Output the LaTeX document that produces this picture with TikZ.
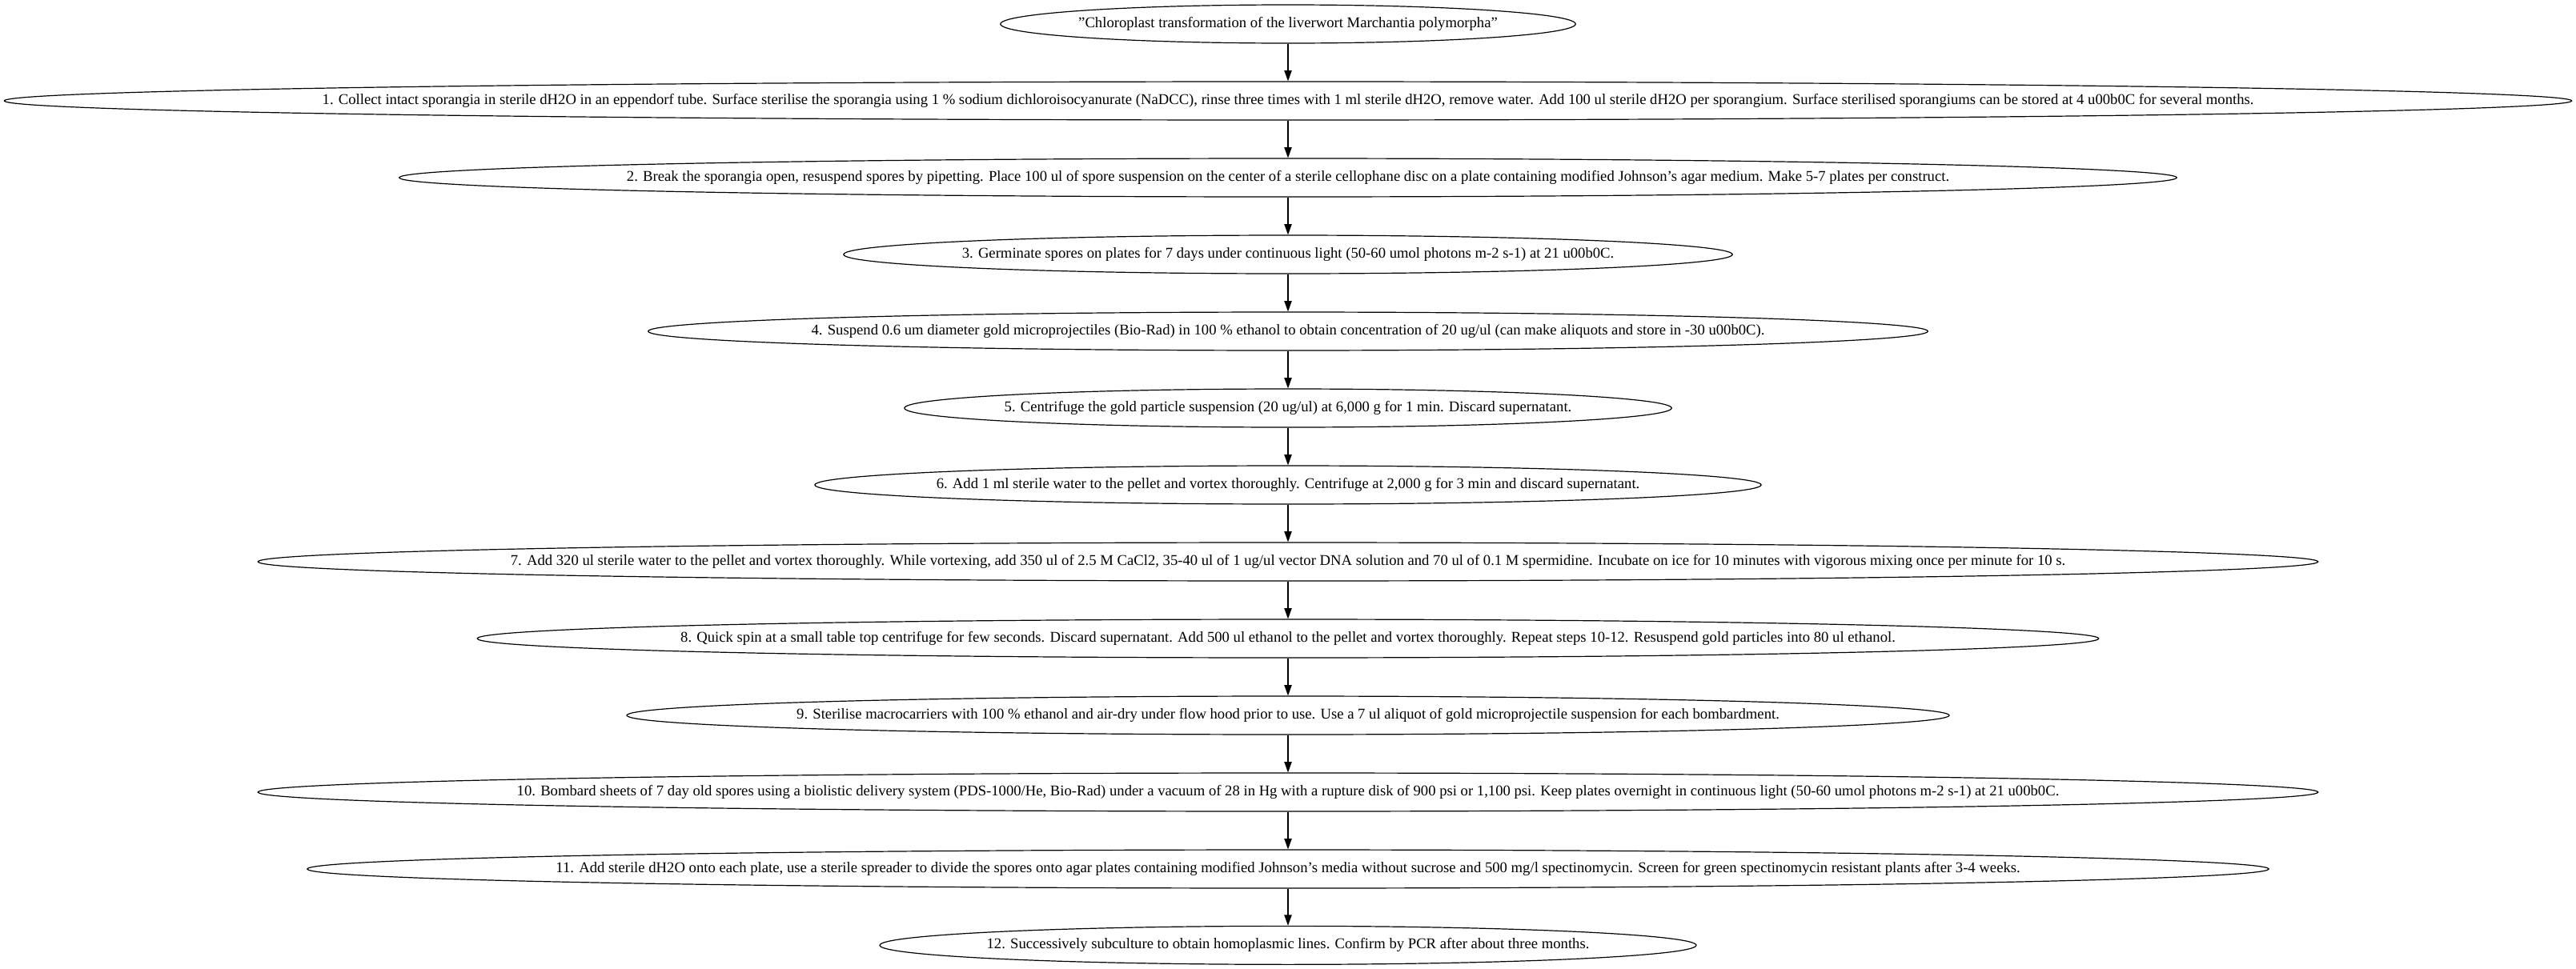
\documentclass[tikz,border=0pt]{standalone}
\usepackage{fontspec}
\setmainfont{Liberation Serif}
\usetikzlibrary{shapes.geometric,arrows.meta}
% each step is a fixed-size ellipse; the label is centred in a zero-width box
\newcommand{\steptext}[1]{\makebox[0pt]{#1}}
\tikzset{
  stepnode/.style={draw=black, line width=0.9pt, ellipse, inner sep=0pt,
    minimum height=36pt, font=\fontsize{14pt}{16pt}\selectfont},
  flow/.style={draw=black, line width=0.9pt, -{Triangle[length=10pt,width=7pt]}}
}
\begin{document}
\begin{tikzpicture}[x=1pt,y=1pt]
\useasboundingbox (0,0) rectangle (2413.5,-908);
\def\cx{1206.75}
\node[stepnode, minimum width=538.8pt] (t) at (\cx,-22.5) {\steptext{"Chloroplast transformation of the liverwort Marchantia polymorpha"}};
\node[stepnode, minimum width=2405.5pt] (s1) at (\cx,-94.5) {\steptext{1. Collect intact sporangia in sterile dH2O in an eppendorf tube. Surface sterilise the sporangia using 1 \% sodium dichloroisocyanurate (NaDCC), rinse three times with 1 ml sterile dH2O, remove water. Add 100 ul sterile dH2O per sporangium. Surface sterilised sporangiums can be stored at 4 u00b0C for several months.}};
\node[stepnode, minimum width=1665.4pt] (s2) at (\cx,-166.5) {\steptext{2. Break the sporangia open, resuspend spores by pipetting. Place 100 ul of spore suspension on the center of a sterile cellophane disc on a plate containing modified Johnson’s agar medium. Make 5-7 plates per construct.}};
\node[stepnode, minimum width=832.8pt] (s3) at (\cx,-238.5) {\steptext{3. Germinate spores on plates for 7 days under continuous light (50-60 umol photons m-2 s-1) at 21 u00b0C.}};
\node[stepnode, minimum width=1199pt] (s4) at (\cx,-310.5) {\steptext{4. Suspend 0.6 um diameter gold microprojectiles (Bio-Rad) in 100 \% ethanol to obtain concentration of 20 ug/ul (can make aliquots and store in -30 u00b0C).}};
\node[stepnode, minimum width=718.8pt] (s5) at (\cx,-382.5) {\steptext{5. Centrifuge the gold particle suspension (20 ug/ul) at 6,000 g for 1 min. Discard supernatant.}};
\node[stepnode, minimum width=886.6pt] (s6) at (\cx,-454.5) {\steptext{6. Add 1 ml sterile water to the pellet and vortex thoroughly. Centrifuge at 2,000 g for 3 min and discard supernatant.}};
\node[stepnode, minimum width=1930.2pt] (s7) at (\cx,-526.5) {\steptext{7. Add 320 ul sterile water to the pellet and vortex thoroughly. While vortexing, add 350 ul of 2.5 M CaCl2, 35-40 ul of 1 ug/ul vector DNA solution and 70 ul of 0.1 M spermidine. Incubate on ice for 10 minutes with vigorous mixing once per minute for 10 s.}};
\node[stepnode, minimum width=1519.2pt] (s8) at (\cx,-598.5) {\steptext{8. Quick spin at a small table top centrifuge for few seconds. Discard supernatant. Add 500 ul ethanol to the pellet and vortex thoroughly. Repeat steps 10-12. Resuspend gold particles into 80 ul ethanol.}};
\node[stepnode, minimum width=1239pt] (s9) at (\cx,-670.5) {\steptext{9. Sterilise macrocarriers with 100 \% ethanol and air-dry under flow hood prior to use. Use a 7 ul aliquot of gold microprojectile suspension for each bombardment.}};
\node[stepnode, minimum width=1930.2pt] (s10) at (\cx,-742.5) {\steptext{10. Bombard sheets of 7 day old spores using a biolistic delivery system (PDS-1000/He, Bio-Rad) under a vacuum of 28 in Hg with a rupture disk of 900 psi or 1,100 psi. Keep plates overnight in continuous light (50-60 umol photons m-2 s-1) at 21 u00b0C.}};
\node[stepnode, minimum width=1837.8pt] (s11) at (\cx,-814.5) {\steptext{11. Add sterile dH2O onto each plate, use a sterile spreader to divide the spores onto agar plates containing modified Johnson’s media without sucrose and 500 mg/l spectinomycin. Screen for green spectinomycin resistant plants after 3-4 weeks.}};
\node[stepnode, minimum width=765pt] (s12) at (\cx,-886) {\steptext{12. Successively subculture to obtain homoplasmic lines. Confirm by PCR after about three months.}};
\foreach \a/\b in {t/s1,s1/s2,s2/s3,s3/s4,s4/s5,s5/s6,s6/s7,s7/s8,s8/s9,s9/s10,s10/s11,s11/s12}
  \draw[flow] (\a.south) -- (\b.north);
\end{tikzpicture}
\end{document}
